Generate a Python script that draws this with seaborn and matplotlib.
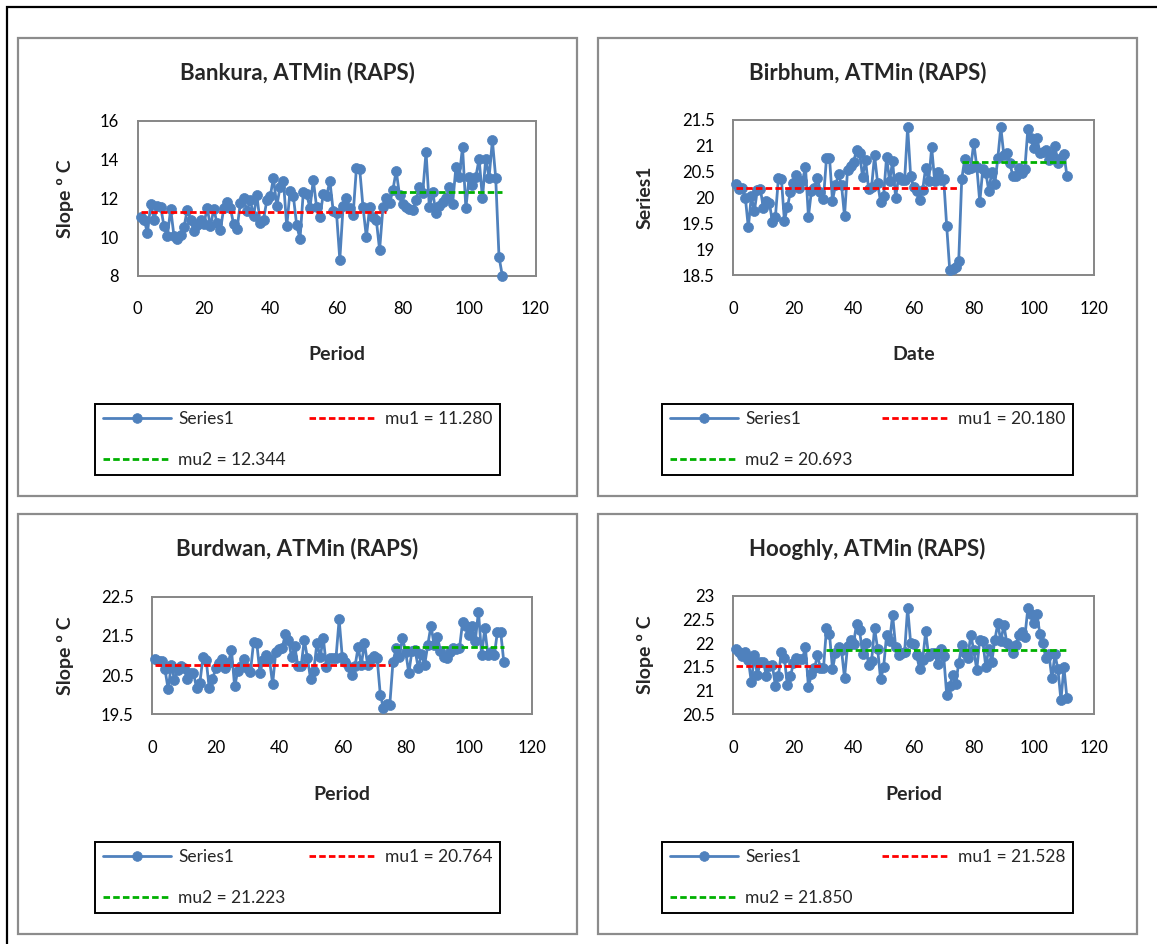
import numpy as np
import pandas as pd
import matplotlib
matplotlib.use("Agg")
import matplotlib.pyplot as plt
from matplotlib.patches import Rectangle
from matplotlib.ticker import FuncFormatter
import seaborn as sns

# ---------------- data ----------------
titles = ["Bankura, ATMin (RAPS)", "Birbhum, ATMin (RAPS)",
          "Burdwan, ATMin (RAPS)", "Hooghly, ATMin (RAPS)"]
xlabels = ["Period", "Date", "Period", "Period"]
ylabels = ["Slope º C", "Series1", "Slope º C", "Slope º C"]

bankura = [11.05, 10.9, 10.2, 11.7, 10.9, 11.6, 11.55, 10.55, 10.05, 11.45,
           10.05, 9.9, 10.1, 10.5, 11.4, 10.9, 10.3, 10.6, 10.9, 10.65,
           11.5, 10.55, 11.45, 10.7, 10.35, 11.5, 11.8, 11.5, 10.65, 10.4,
           11.75, 12.0, 11.35, 11.9, 11.1, 12.15, 10.7, 10.9, 11.9, 12.1,
           13.05, 11.6, 12.6, 12.9, 10.55, 12.4, 12.1, 10.6, 9.9, 12.35,
           12.2, 11.5, 12.95, 11.55, 11.05, 12.2, 12.1, 12.9, 11.35, 11.25,
           8.83, 11.6, 12.0, 11.48, 11.13, 13.55, 13.5, 11.53, 10.0, 11.53,
           11.02, 10.88, 9.33, 11.53, 12.0, 11.74, 12.43, 13.43, 12.17, 11.7,
           11.57, 11.45, 11.4, 11.91, 12.6, 12.3, 14.4, 11.53, 12.34, 11.22,
           11.6, 11.8, 12.0, 12.6, 11.7, 13.6, 13.1, 14.65, 11.5, 13.1,
           12.7, 13.1, 14.05, 12.0, 14.05, 13.07, 15.0, 13.07, 8.97, 8.0]
birbhum = [20.26, 20.16, 20.18, 20.0, 19.42, 20.03, 19.73, 20.15, 20.17, 19.79,
           19.94, 19.9, 19.53, 19.62, 20.37, 20.36, 19.55, 19.81, 20.11, 20.29,
           20.43, 20.18, 20.31, 20.6, 19.63, 20.13, 20.19, 20.37, 20.11, 19.98,
           20.76, 20.77, 19.94, 20.24, 20.45, 20.24, 19.64, 20.53, 20.61, 20.68,
           20.92, 20.87, 20.4, 20.73, 20.17, 20.2, 20.82, 20.29, 19.91, 20.03,
           20.79, 20.31, 20.71, 20.0, 20.4, 20.34, 20.34, 21.36, 20.42, 20.2,
           20.13, 19.95, 20.15, 20.58, 20.31, 20.97, 20.31, 20.49, 20.33, 20.35,
           19.44, 18.6, 18.61, 18.66, 18.78, 20.36, 20.74, 20.56, 20.58, 21.06,
           20.6, 19.91, 20.55, 20.48, 20.13, 20.5, 20.26, 20.76, 21.36, 20.82,
           20.87, 20.66, 20.42, 20.42, 20.58, 20.48, 20.56, 21.33, 21.15, 20.95,
           21.16, 20.87, 20.89, 20.92, 20.73, 20.82, 21.0, 20.66, 20.77, 20.84, 20.42]
burdwan = [20.9, 20.86, 20.86, 20.65, 20.14, 20.76, 20.38, 20.63, 20.73, 20.67,
           20.39, 20.56, 20.56, 20.16, 20.29, 20.95, 20.89, 20.16, 20.39, 20.67,
           20.82, 20.9, 20.69, 20.82, 21.14, 20.21, 20.61, 20.73, 20.9, 20.67,
           20.59, 21.35, 21.31, 20.55, 20.89, 21.01, 20.9, 20.27, 21.1, 21.16,
           21.18, 21.54, 21.4, 20.95, 21.23, 20.72, 20.73, 21.4, 20.93, 20.39,
           20.61, 21.33, 20.95, 21.45, 20.7, 20.93, 20.93, 20.93, 21.92, 20.95,
           20.84, 20.7, 20.5, 20.72, 21.21, 20.76, 21.31, 20.76, 20.91, 20.99,
           20.93, 20.0, 19.65, 19.76, 19.74, 20.84, 21.18, 20.97, 21.44, 21.1,
           20.55, 21.12, 21.14, 20.67, 21.04, 20.76, 21.27, 21.76, 21.27, 21.48,
           21.12, 20.97, 20.93, 21.1, 21.2, 21.16, 21.18, 21.86, 21.74, 21.52,
           21.76, 21.38, 22.12, 21.01, 21.69, 21.01, 21.1, 21.01, 21.61, 21.61, 20.84]
hooghly = [21.89, 21.82, 21.73, 21.82, 21.65, 21.18, 21.75, 21.33, 21.61, 21.61,
           21.31, 21.52, 21.54, 21.1, 21.31, 21.82, 21.68, 21.11, 21.3, 21.58,
           21.7, 21.67, 21.66, 21.93, 21.07, 21.35, 21.47, 21.75, 21.47, 21.47,
           22.32, 22.2, 21.45, 21.79, 21.93, 21.86, 21.27, 21.94, 22.08, 21.99,
           22.41, 22.28, 21.77, 22.01, 21.54, 21.63, 22.32, 21.89, 21.24, 21.49,
           22.18, 22.04, 22.6, 21.93, 21.75, 21.79, 21.82, 22.75, 22.01, 21.99,
           21.75, 21.45, 21.65, 22.25, 21.73, 21.8, 21.79, 21.56, 21.87, 21.73,
           20.91, 21.1, 21.33, 21.14, 21.59, 21.96, 21.8, 21.68, 22.18, 21.85,
           21.44, 22.08, 22.04, 21.51, 21.89, 21.61, 22.07, 22.42, 22.04, 22.39,
           22.01, 21.94, 21.79, 21.96, 22.18, 22.23, 22.14, 22.74, 22.63, 22.42,
           22.62, 22.2, 22.0, 21.68, 21.77, 21.26, 21.77, 21.45, 20.8, 21.49, 20.84]
series = [bankura, birbhum, burdwan, hooghly]

mu1 = [11.280, 20.180, 20.764, 21.528]
mu2 = [12.344, 20.693, 21.223, 21.850]
change_end = [75, 75, 75, 30]      # last period of segment 1
seg2_start = [76, 76, 76, 31]      # first period of segment 2

ylims = [(8, 16), (18.5, 21.5), (19.5, 22.5), (20.5, 23)]
ysteps = [2, 0.5, 1, 0.5]

# ---------------- layout (pixels) ----------------
W, H = 1157, 944
axes_px = [(137.5, 121, 535.5, 275.7), (733.3, 120, 1094, 275),
           (152.3, 596.7, 532.3, 714.3), (733.3, 596, 1094, 714.3)]
panel_px = [(18, 38, 577, 496), (598, 38, 1137, 496),
            (18, 514, 577, 934), (598, 514, 1137, 934)]
title_y = [73, 73, 549, 549]
xlabel_y = [354, 354, 794, 794]
ylabel_x = [65, 645, 65, 645]
legend_px = [(95, 399, 500, 480), (662, 399, 1073, 480),
             (95, 838, 500, 917), (662, 838, 1073, 917)]

sns.set_style("white")
plt.rcParams['font.family'] = ['Lato', 'DejaVu Sans']

BLUE = "#4F81BD"
GRAY = "#868686"

fig = plt.figure(figsize=(W / 100, H / 100), dpi=100)

def fx(px):
    return px / W

def fy(py):
    return 1 - py / H

# outer black frame
fig.add_artist(Rectangle((fx(7), fy(H + 20)), 1.1, fy(7) - fy(H + 20),
                         transform=fig.transFigure, fill=False,
                         edgecolor="black", linewidth=1.6))

for i in range(4):
    px0, py0, px1, py1 = panel_px[i]
    fig.add_artist(Rectangle((fx(px0), fy(py1)), fx(px1) - fx(px0), fy(py0) - fy(py1),
                             transform=fig.transFigure, fill=False,
                             edgecolor="#8C8C8C", linewidth=1.6))

    L, T, R, B = axes_px[i]
    ax = fig.add_axes([fx(L), fy(B), fx(R) - fx(L), fy(T) - fy(B)])

    vals = series[i]
    periods = np.arange(1, len(vals) + 1)
    df = pd.DataFrame({"Period": periods, "Value": vals})

    sns.lineplot(data=df, x="Period", y="Value", ax=ax, color=BLUE,
                 marker="o", markersize=7.2, markeredgecolor=BLUE,
                 markeredgewidth=0.5, linewidth=2.0, label="Series1",
                 legend=False, clip_on=False, zorder=3)
    seg1 = pd.DataFrame({"Period": [1, change_end[i]], "Value": [mu1[i], mu1[i]]})
    seg2 = pd.DataFrame({"Period": [seg2_start[i], len(vals)], "Value": [mu2[i], mu2[i]]})
    sns.lineplot(data=seg1, x="Period", y="Value", ax=ax, color="#FF0000",
                 linewidth=2.0, legend=False, zorder=4)
    sns.lineplot(data=seg2, x="Period", y="Value", ax=ax, color="#00B000",
                 linewidth=2.0, legend=False, zorder=4)
    lines = ax.get_lines()
    h_series, h_mu1, h_mu2 = lines[0], lines[1], lines[2]
    h_mu1.set_dashes([2.35, 1.15])
    h_mu2.set_dashes([2.35, 1.15])
    h_mu1.set_label(f"mu1 = {mu1[i]:.3f}")
    h_mu2.set_label(f"mu2 = {mu2[i]:.3f}")

    ax.set_xlim(0, 120)
    ax.set_xticks(np.arange(0, 121, 20))
    lo, hi = ylims[i]
    ax.set_ylim(lo, hi)
    ax.set_yticks(np.arange(lo, hi + 1e-9, ysteps[i]))
    ax.yaxis.set_major_formatter(FuncFormatter(lambda v, p: f"{v:g}"))

    for sp in ax.spines.values():
        sp.set_visible(True)
        sp.set_color(GRAY)
        sp.set_linewidth(1.4)
    ax.tick_params(axis="both", which="major", direction="out", length=4,
                   width=1.4, color=GRAY, labelsize=12, labelcolor="black")
    ax.tick_params(axis="x", pad=14.5)
    ax.tick_params(axis="y", pad=9.5)

    # axis labels
    ax.set_xlabel(xlabels[i], fontsize=14, fontweight="bold")
    ax.set_ylabel(ylabels[i], fontsize=14, fontweight="bold")
    ax.xaxis.label.set_va("center")
    ax.yaxis.label.set_va("center")
    ax.xaxis.set_label_coords(0.5, (B - xlabel_y[i]) / (B - T))
    ax.yaxis.set_label_coords((ylabel_x[i] - L) / (R - L), 0.5)

    # title centered on panel box
    fig.text(fx((px0 + px1) / 2), fy(title_y[i]), titles[i], ha="center",
             va="center", fontsize=16, fontweight="bold")

    # legend
    lx0, ly0, lx1, ly1 = legend_px[i]
    leg = ax.legend([h_series, h_mu2, h_mu1],
                    ["Series1", h_mu2.get_label(), h_mu1.get_label()],
                    ncol=2, mode="expand", loc="center",
                    bbox_to_anchor=(fx(lx0), fy(ly1), fx(lx1) - fx(lx0), fy(ly0) - fy(ly1)),
                    bbox_transform=fig.transFigure, frameon=True, fancybox=False,
                    framealpha=1, edgecolor="black", fontsize=12.5,
                    handlelength=3.9, handletextpad=0.45, labelspacing=1.4,
                    borderpad=0.45, borderaxespad=0)
    leg.get_frame().set_linewidth(1.4)
    for lh in leg.legend_handles:
        if lh.get_marker() not in (None, "None", ""):
            lh.set_markersize(7)

fig.savefig("out.png", dpi=100)
